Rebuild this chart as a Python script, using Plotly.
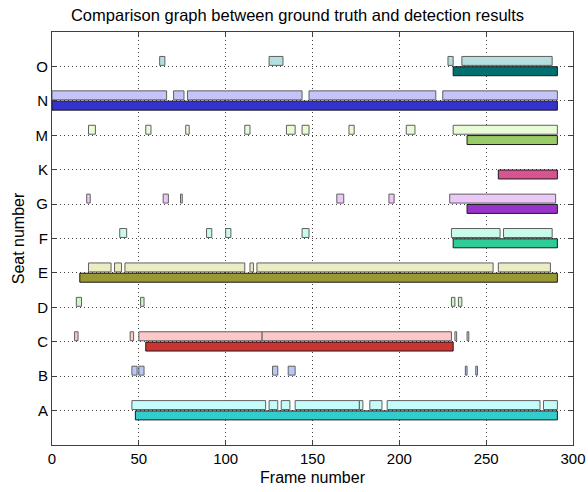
import plotly.graph_objects as go

# Seats from bottom to top
seats = ["A", "B", "C", "D", "E", "F", "G", "K", "M", "N", "O"]

# Detection intervals (start frame, end frame) per seat
det_A = [(46, 123), (125, 130), (132, 137), (140, 177), (177, 179), (183, 190), (193, 281), (283, 291)]
det_B = [(46, 49), (50, 53), (127, 130), (136, 140), (238, 239), (244, 245)]
det_C = [(13, 15), (45, 47), (50, 121), (121, 230), (232, 233), (239, 240)]
det_D = [(14, 17), (51, 53), (230, 232), (234, 236)]
det_E = [(21, 34), (36, 40), (42, 111), (114, 116), (118, 254), (257, 287)]
det_F = [(39, 43), (89, 92), (100, 103), (144, 148), (230, 258), (260, 288)]
det_G = [(20, 22), (64, 67), (74, 75), (164, 168), (194, 197), (229, 290)]
det_K = []
det_M = [(21, 25), (54, 57), (77, 79), (111, 114), (135, 140), (144, 148), (171, 174), (204, 209), (231, 291)]
det_N = [(0, 66), (70, 76), (78, 144), (148, 221), (225, 291)]
det_O = [(62, 65), (125, 133), (228, 231), (236, 288)]

# Ground-truth intervals per seat
gt_A = [(48, 291)]
gt_B = []
gt_C = [(54, 231)]
gt_D = []
gt_E = [(16, 291)]
gt_F = [(231, 291)]
gt_G = [(239, 291)]
gt_K = [(257, 291)]
gt_M = [(239, 291)]
gt_N = [(0, 291)]
gt_O = [(231, 291)]

det_colors = ["#c4fcfc", "#b8c8f4", "#fcc8c8", "#c8f8c8", "#ececc4", "#c8fce8",
              "#ecc8f8", "#f0b0d0", "#e8fcd8", "#c4c4f8", "#b3e0df"]
gt_colors = ["#33cccc", "#3355cc", "#cc3333", "#33cc33", "#999933", "#2ecc99",
             "#9933cc", "#d65590", "#99cc66", "#3333cc", "#007070"]

det_all = [det_A, det_B, det_C, det_D, det_E, det_F, det_G, det_K, det_M, det_N, det_O]
gt_all = [gt_A, gt_B, gt_C, gt_D, gt_E, gt_F, gt_G, gt_K, gt_M, gt_N, gt_O]

BAR_H = 0.26


def collect(groups, colors, offset):
    ys, xs, bases, cols = [], [], [], []
    for i, (spans, c) in enumerate(zip(groups, colors)):
        for s, e in spans:
            ys.append(i + 1 + offset)
            bases.append(s)
            xs.append(e - s)
            cols.append(c)
    return ys, xs, bases, cols


fig = go.Figure()

y, x, b, c = collect(det_all, det_colors, 0.16)
fig.add_trace(go.Bar(orientation="h", y=y, x=x, base=b, width=BAR_H,
                     marker=dict(color=c, line=dict(color="#606060", width=1)),
                     name="Detection", hoverinfo="x+y"))

y, x, b, c = collect(gt_all, gt_colors, -0.14)
fig.add_trace(go.Bar(orientation="h", y=y, x=x, base=b, width=BAR_H,
                     marker=dict(color=c, line=dict(color="#1a1a1a", width=1)),
                     name="Ground truth", hoverinfo="x+y"))

axis_common = dict(
    showline=True, linecolor="#404040", linewidth=1, mirror="ticks",
    ticks="inside", ticklen=5, tickcolor="#404040",
    showgrid=True, gridcolor="#404040", gridwidth=1, griddash="1px,3px",
    zeroline=False, layer="above traces", automargin=False,
    tickfont=dict(family="Liberation Sans, Arial", size=15, color="#000"),
)

fig.update_layout(
    width=588, height=492,
    margin=dict(l=52, r=15, t=32, b=47),
    paper_bgcolor="white", plot_bgcolor="white",
    barmode="overlay", showlegend=False,
    title=dict(text="Comparison graph between ground truth and detection results",
               x=0.506, xanchor="center", y=0.970, yanchor="middle",
               font=dict(family="Liberation Sans, Arial", size=16.5, color="#000")),
    xaxis=dict(range=[0, 300], tickvals=[0, 50, 100, 150, 200, 250, 300],
               title=dict(text="Frame number", standoff=5,
                          font=dict(family="Liberation Sans, Arial", size=16, color="#000")),
               **axis_common),
    yaxis=dict(range=[0, 12], tickvals=list(range(1, len(seats) + 1)), ticktext=seats,
               title=dict(text="Seat number", standoff=6,
                          font=dict(family="Liberation Sans, Arial", size=16, color="#000")),
               **axis_common),
)

fig.write_html("out.html")
